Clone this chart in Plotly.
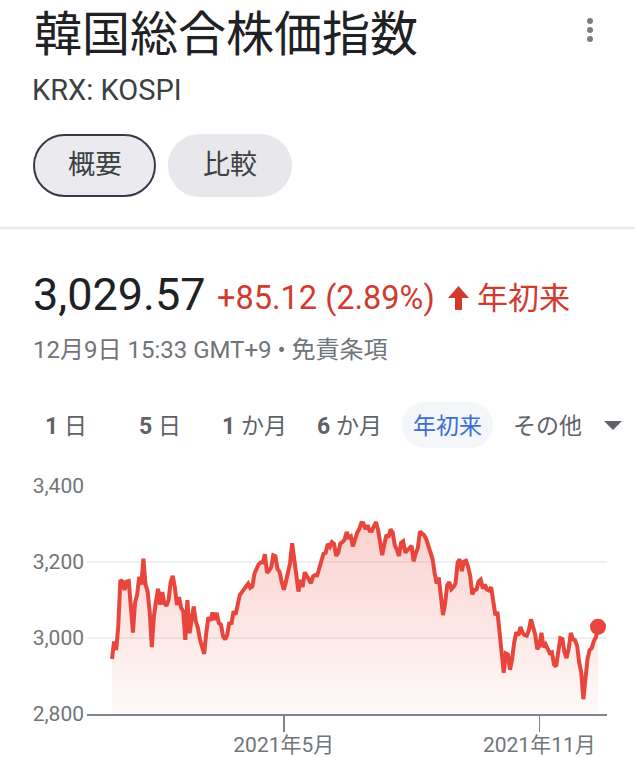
import plotly.graph_objects as go

# ---------------- data (KOSPI 2021 YTD daily closes) -------------
jan_days = [4, 5, 6, 7, 8, 11, 12, 13, 14, 15, 18, 19, 20, 21, 22, 25, 26, 27, 28, 29]
jan_vals = [2944.45, 2990.57, 2968.21, 3031.68, 3152.18, 3148.45, 3125.95, 3148.29, 3149.93, 3085.90,
            3013.93, 3092.66, 3114.55, 3160.84, 3140.63, 3208.99, 3140.31, 3122.56, 3069.05, 2976.21]
feb_days = [1, 2, 3, 4, 5, 8, 9, 10, 15, 16, 17, 18, 19, 22, 23, 24, 25, 26]
feb_vals = [3056.53, 3096.81, 3129.68, 3087.55, 3120.63, 3091.24, 3084.67, 3100.58, 3147.00, 3163.25,
            3133.73, 3086.66, 3107.62, 3079.75, 3070.09, 2994.98, 3099.69, 3012.95]
mar_days = [2, 3, 4, 5, 8, 9, 10, 11, 12, 15, 16, 17, 18, 19, 22, 23, 24, 25, 26, 29, 30, 31]
mar_vals = [3043.49, 3082.99, 3043.87, 3026.26, 2996.11, 2976.12, 2958.12, 3013.70, 3054.39, 3045.71,
            3067.17, 3047.50, 3066.01, 3039.53, 3035.46, 3004.74, 2996.35, 3008.33, 3041.01, 3036.04,
            3070.00, 3061.42]
apr_days = [1, 2, 5, 6, 7, 8, 9, 12, 13, 14, 15, 16, 19, 20, 21, 22, 23, 26, 27, 28, 29, 30]
apr_vals = [3087.40, 3112.80, 3120.83, 3127.20, 3137.52, 3143.26, 3131.88, 3135.59, 3169.08, 3182.38,
            3194.33, 3198.84, 3198.62, 3220.70, 3171.66, 3177.52, 3186.10, 3217.53, 3215.42, 3181.47,
            3174.07, 3147.86]
may_days = [3, 4, 6, 7, 10, 11, 12, 13, 14, 17, 18, 20, 21, 24, 25, 26, 27, 28, 31]
may_vals = [3127.20, 3147.37, 3178.74, 3197.20, 3249.30, 3209.43, 3161.66, 3122.11, 3153.32, 3134.52,
            3173.05, 3162.28, 3156.42, 3144.30, 3162.28, 3165.51, 3165.23, 3188.73, 3203.92]
jun_days = [1, 2, 3, 4, 7, 8, 9, 10, 11, 14, 15, 16, 17, 18, 21, 22, 23, 24, 25, 28, 29, 30]
jun_vals = [3221.87, 3224.23, 3247.43, 3240.08, 3252.12, 3247.83, 3216.18, 3224.01, 3249.32, 3252.13,
            3258.63, 3278.68, 3264.96, 3267.93, 3240.79, 3263.88, 3276.19, 3286.10, 3302.84, 3301.89,
            3286.68, 3296.68]
jul_days = [1, 2, 5, 6, 7, 8, 9, 12, 13, 14, 15, 16, 19, 20, 21, 22, 23, 26, 27, 28, 29, 30]
jul_vals = [3282.06, 3281.78, 3293.21, 3305.21, 3285.34, 3252.68, 3217.95, 3246.47, 3271.38, 3264.81,
            3286.22, 3276.91, 3244.04, 3232.70, 3215.76, 3250.21, 3254.42, 3224.95, 3232.61, 3236.86,
            3242.65, 3202.32]
aug_days = [2, 3, 4, 5, 6, 9, 10, 11, 12, 13, 17, 18, 19, 20, 23, 24, 25, 26, 27, 30, 31]
aug_vals = [3223.04, 3237.14, 3280.38, 3276.13, 3270.36, 3260.42, 3243.19, 3220.62, 3208.38, 3171.29,
            3143.09, 3158.93, 3097.83, 3060.51, 3090.21, 3138.30, 3146.99, 3128.53, 3133.90, 3144.19,
            3199.27]
sep_days = [1, 2, 3, 6, 7, 8, 9, 10, 13, 14, 15, 16, 17, 23, 24, 27, 28, 29, 30]
sep_vals = [3207.02, 3175.85, 3201.06, 3203.33, 3187.42, 3162.99, 3114.70, 3125.76, 3127.86, 3148.83,
            3153.40, 3130.09, 3140.51, 3127.58, 3125.24, 3133.64, 3097.92, 3060.27, 3068.82]
oct_days = [1, 5, 6, 7, 8, 12, 13, 14, 15, 18, 19, 20, 21, 22, 25, 26, 27, 28, 29]
oct_vals = [3019.18, 2962.17, 2908.31, 2959.46, 2956.30, 2916.38, 2944.41, 2988.64, 3015.06, 3006.68,
            3029.04, 3013.13, 3007.33, 3006.16, 3020.54, 3049.08, 3025.49, 3009.55, 2970.68]
nov_days = [1, 2, 3, 4, 5, 8, 9, 10, 11, 12, 15, 16, 17, 18, 19, 22, 23, 24, 25, 26, 29, 30]
nov_vals = [2978.94, 3013.49, 2975.71, 2983.22, 2969.27, 2960.20, 2962.46, 2930.17, 2924.92, 2968.80,
            2999.52, 2997.33, 2962.42, 2947.38, 2971.02, 3013.25, 2997.33, 2994.29, 2980.27, 2936.44,
            2909.32, 2839.01]
dec_days = [1, 2, 3, 6, 7, 8, 9]
dec_vals = [2899.72, 2945.27, 2968.33, 2973.25, 2991.72, 3001.80, 3029.57]

tick_dates = ["2021-05-03", "2021-11-01"]
tick_labels = ["2021年5月", "2021年11月"]
y_ticks = [2800, 3000, 3200, 3400]

months = [(1, jan_days, jan_vals), (2, feb_days, feb_vals), (3, mar_days, mar_vals),
          (4, apr_days, apr_vals), (5, may_days, may_vals), (6, jun_days, jun_vals),
          (7, jul_days, jul_vals), (8, aug_days, aug_vals), (9, sep_days, sep_vals),
          (10, oct_days, oct_vals), (11, nov_days, nov_vals), (12, dec_days, dec_vals)]
dates, values = [], []
for m, ds, vs in months:
    for d, v in zip(ds, vs):
        dates.append(f"2021-{m:02d}-{d:02d}")
        values.append(v)

# ---------------- layout geometry (reference pixel coords) -------------
W, H = 635, 757
PL, PR, PT, PB = 87, 607, 486, 714
RED_LINE = "#e8453c"
RED_TXT = "#d23a2e"
GRAY = "#70757a"
FONT = "Roboto, 'Noto Sans CJK JP', sans-serif"


def xp(px):
    return (px - PL) / (PR - PL)


def yp(py):
    return (PB - py) / (PB - PT)


def pill_path(x0, y0, x1, y1):
    r = (y1 - y0) / 2.0
    k = 0.5523 * r
    pts = [
        ("M", [(x0 + r, y0)]),
        ("L", [(x1 - r, y0)]),
        ("C", [(x1 - r + k, y0), (x1, y0 + r - k), (x1, y0 + r)]),
        ("C", [(x1, y0 + r + k), (x1 - r + k, y1), (x1 - r, y1)]),
        ("L", [(x0 + r, y1)]),
        ("C", [(x0 + r - k, y1), (x0, y1 - r + k), (x0, y1 - r)]),
        ("C", [(x0, y0 + r - k), (x0 + r - k, y0), (x0 + r, y0)]),
    ]
    s = ""
    for cmd, ps in pts:
        s += cmd + " " + " ".join(f"{xp(a):.5f},{yp(b):.5f}" for a, b in ps) + " "
    return s + "Z"


def poly_path(points):
    return "M " + " L ".join(f"{xp(a):.5f},{yp(b):.5f}" for a, b in points) + " Z"


fig = go.Figure()
fig.add_trace(go.Scatter(
    x=dates, y=values, mode="lines",
    line=dict(color=RED_LINE, width=4),
    fill="tozeroy",
    fillgradient=dict(type="vertical", start=2800, stop=3320,
                      colorscale=[[0, "rgba(234,67,53,0.03)"], [1, "rgba(234,67,53,0.25)"]]),
    hoverinfo="skip",
))
fig.add_trace(go.Scatter(
    x=[dates[-1]], y=[values[-1]], mode="markers",
    marker=dict(color=RED_LINE, size=16), hoverinfo="skip",
))

n = len(dates)
scale = (598 - 112) / (n - 1)
x0 = -(112 - PL) / scale
x1 = x0 + (PR - PL) / scale

shapes = []
shapes.append(dict(type="line", xref="paper", yref="paper", x0=xp(0), x1=xp(W), y0=yp(228), y1=yp(228),
                   line=dict(color="#ebebeb", width=3), layer="above"))
shapes.append(dict(type="path", xref="paper", yref="paper", path=pill_path(34, 135, 155, 196),
                   fillcolor="#ebeaef", line=dict(color="#3a3947", width=2)))
shapes.append(dict(type="path", xref="paper", yref="paper", path=pill_path(168, 134, 292, 197),
                   fillcolor="#e8e7ec", line=dict(width=0)))
shapes.append(dict(type="path", xref="paper", yref="paper", path=pill_path(402, 402, 493, 448),
                   fillcolor="#f4f6fa", line=dict(width=0)))
for cy in [21, 30, 39]:
    shapes.append(dict(type="circle", xref="paper", yref="paper",
                       x0=xp(587), x1=xp(593), y0=yp(cy - 3), y1=yp(cy + 3),
                       fillcolor="#7a7e83", line=dict(width=0)))
shapes.append(dict(type="path", xref="paper", yref="paper",
                   path=poly_path([(458.5, 286), (469, 298), (462, 298), (462, 310), (455, 310),
                                   (455, 298), (448, 298)]),
                   fillcolor=RED_TXT, line=dict(width=0)))
shapes.append(dict(type="path", xref="paper", yref="paper",
                   path=poly_path([(604, 421), (622, 421), (613, 430)]),
                   fillcolor="#5f6368", line=dict(width=0)))


def ann(text, px, py, size, color, anchor="left"):
    return dict(text=text, x=xp(px), y=yp(py), xref="paper", yref="paper",
                xanchor=anchor, yanchor="middle", showarrow=False, borderpad=0,
                font=dict(family=FONT, size=size, color=color))


annotations = [
    ann("韓国総合株価指数", 33, 34, 48, "#202124"),
    ann("KRX: KOSPI", 31, 90, 29, "#3c4043"),
    ann("概要", 94.5, 165, 27, "#3c4043", "center"),
    ann("比較", 230, 165, 27, "#3c4043", "center"),
    ann("3,029.57", 32, 294, 45, "#202124"),
    ann("+85.12 (2.89%)", 216, 298, 32.5, RED_TXT),
    ann("年初来", 476, 298, 31, RED_TXT),
    ann("12月9日 15:33 GMT+9 • 免責条項", 32, 350, 24, GRAY),
    ann("<b>1</b> 日", 44, 426, 23, "#5f6368"),
    ann("<b>5</b> 日", 138, 426, 23, "#5f6368"),
    ann("<b>1</b> か月", 221, 426, 23, "#5f6368"),
    ann("<b>6</b> か月", 316, 426, 23, "#5f6368"),
    ann("年初来", 447.5, 426, 23, "#3b6fd0", "center"),
    ann("その他", 512, 426, 23, "#5f6368"),
]

fig.update_layout(
    width=W, height=H, autosize=False,
    margin=dict(l=PL, r=W - PR, t=PT, b=H - PB, pad=0, autoexpand=False),
    paper_bgcolor="white", plot_bgcolor="white",
    showlegend=False, hovermode=False, dragmode=False,
    font=dict(family=FONT, color=GRAY),
    shapes=shapes, annotations=annotations,
    xaxis=dict(type="category", range=[x0, x1], showgrid=False, zeroline=False, automargin=False,
               showline=True, linecolor="#80868b", linewidth=2, fixedrange=True,
               tickmode="array", tickvals=tick_dates, ticktext=tick_labels,
               ticks="outside", ticklen=16, tickwidth=1.5, tickcolor="#80868b",
               ticklabelstandoff=-5,
               tickfont=dict(size=21, color=GRAY, family=FONT)),
    yaxis=dict(range=[2800, 3400], tickmode="array", tickvals=y_ticks, tickformat=",",
               showgrid=True, gridcolor="#f0f0f0", gridwidth=1.5, zeroline=False, automargin=False,
               showline=False, ticks="", fixedrange=True, tickfont=dict(size=21, color=GRAY, family=FONT),
               ticklabelstandoff=2),
)

fig.write_html("out.html", config={"displayModeBar": False, "staticPlot": True},
               post_script="document.body.style.margin='0';document.body.style.overflow='hidden';")
